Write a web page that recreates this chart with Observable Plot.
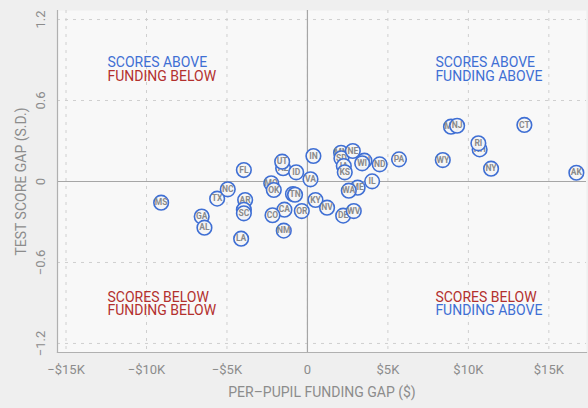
<!DOCTYPE html>
<html>
<head>
<meta charset="utf-8">
<script src="https://cdn.jsdelivr.net/npm/d3@7"></script>
<script src="https://cdn.jsdelivr.net/npm/@observablehq/plot@0.6"></script>
<style>
  html, body { margin: 0; padding: 0; background: #efefef; }
  #chart svg { display: block; }
</style>
</head>
<body>
<div id="chart"></div>
<script>
// ---- data ----
const states = ["MS","GA","AL","TX","NC","FL","AR","HI","SC","LA","AZ","UT","ID","IN","VA","MO","OK","MI","TN","KY","NV","CA","OR","CO","NM","MN","SD","NE","IA","KS","OH","WI","ND","PA","WY","IL","ME","WA","DE","WV","MA","NJ","CT","NH","RI","NY","AK"];
const fundingGap = [-9090,-6570,-6400,-5610,-4950,-3950,-3870,-3950,-3950,-4120,-1510,-1570,-700,370,190,-2250,-2090,-900,-770,500,1220,-1430,-350,-2170,-1470,2090,2110,2820,2260,2320,3540,3400,4490,5690,8410,4020,3120,2570,2220,2880,8920,9300,13480,10700,10620,11410,16710];
const scoreGap = [-0.157,-0.26,-0.342,-0.127,-0.058,0.085,-0.137,-0.21,-0.236,-0.424,0.098,0.147,0.068,0.189,0.016,-0.013,-0.063,-0.093,-0.098,-0.137,-0.194,-0.209,-0.219,-0.25,-0.364,0.213,0.172,0.226,0.115,0.068,0.154,0.135,0.127,0.164,0.159,0.001,-0.046,-0.068,-0.253,-0.219,0.406,0.413,0.419,0.238,0.283,0.095,0.065];

const xTicks = [-15000,-10000,-5000,0,5000,10000,15000];
const xTickLabels = ["\u2212$15K","\u2212$10K","\u2212$5K","0","$5K","$10K","$15K"];
const yTicks = [-1.2,-0.6,0,0.6,1.2];
const yTickLabels = ["\u22121.2","\u22120.6","0","0.6","1.2"];

const quadLines = ["SCORES ABOVE","FUNDING BELOW","SCORES ABOVE","FUNDING ABOVE","SCORES BELOW","FUNDING BELOW","SCORES BELOW","FUNDING ABOVE"];
const quadTone = ["good","bad","good","good","bad","bad","bad","good"];
const quadX = [-12420,-12420,7950,7950,-12420,-12420,7950,7950];
const quadY = [0.878,0.781,0.878,0.781,-0.856,-0.959,-0.856,-0.959];

const xTitle = "PER\u2013PUPIL FUNDING GAP ($)";
const yTitle = "TEST SCORE GAP (S.D.)";

// ---- build tables ----
const points = states.map((s, i) => ({state: s, x: fundingGap[i], y: scoreGap[i]}));
const quads = quadLines.map((t, i) => ({text: t, tone: quadTone[i], x: quadX[i], y: quadY[i]}));
const xt = xTicks.map((v, i) => ({v, label: xTickLabels[i]}));
const yt = yTicks.map((v, i) => ({v, label: yTickLabels[i]}));

const FONT = "Roboto,'Liberation Sans',sans-serif";
const BLUE = "#3f6fd4";
const RED = "#b3302e";
const GRAY = "#8c8c8c";

// each state: circle then its label, so later circles cover earlier labels
const pointMarks = points.flatMap(p => [
  Plot.dot([p], {x: "x", y: "y", r: 7.3, fill: "#f6f6f6", fillOpacity: 0.95, stroke: BLUE, strokeWidth: 1.6}),
  Plot.text([p], {x: "x", y: "y", text: "state", fill: "#8a8a8a", fontSize: 8.5, fontWeight: "bold"})
]);

const chart = Plot.plot({
  width: 588,
  height: 408,
  marginLeft: 57,
  marginRight: 2,
  marginTop: 10,
  marginBottom: 56,
  style: {background: "#efefef", fontFamily: FONT},
  x: {domain: [-15530, 17340], axis: null},
  y: {domain: [-1.267, 1.267], axis: null},
  color: {domain: ["good","bad"], range: [BLUE, RED]},
  marks: [
    Plot.frame({fill: "#f8f8f8", stroke: null}),
    Plot.gridX(xTicks, {stroke: "#cfcfcf", strokeOpacity: 1, strokeDasharray: "3,5"}),
    Plot.gridY(yTicks, {stroke: "#cfcfcf", strokeOpacity: 1, strokeDasharray: "3,5"}),
    Plot.ruleX([0], {stroke: "#a6a6a6", strokeWidth: 1.2}),
    Plot.ruleY([0], {stroke: "#a6a6a6", strokeWidth: 1.2}),
    Plot.frame({anchor: "left", stroke: "#b0b0b0", strokeWidth: 1.2}),
    Plot.frame({anchor: "bottom", stroke: "#b0b0b0", strokeWidth: 1.2}),
    Plot.text(xt, {x: "v", text: "label", frameAnchor: "bottom", dy: 21, fill: GRAY, fontSize: 13, letterSpacing: "0.5px"}),
    Plot.text(yt, {y: "v", text: "label", frameAnchor: "left", dx: -17, rotate: -90, textAnchor: "middle", lineAnchor: "middle", fill: GRAY, fontSize: 13, letterSpacing: "0.5px"}),
    Plot.text([xTitle], {text: d => d, frameAnchor: "bottom", dy: 44, fill: GRAY, fontSize: 14, letterSpacing: "0.9px"}),
    Plot.text([yTitle], {text: d => d, frameAnchor: "left", dx: -36, rotate: -90, textAnchor: "middle", lineAnchor: "middle", fill: GRAY, fontSize: 14, letterSpacing: "0.6px"}),
    Plot.text(quads, {x: "x", y: "y", text: "text", fill: "tone", textAnchor: "start", lineAnchor: "middle", fontSize: 14, letterSpacing: "0.4px"}),
    ...pointMarks
  ]
});
document.getElementById("chart").appendChild(chart);
</script>
</body>
</html>
